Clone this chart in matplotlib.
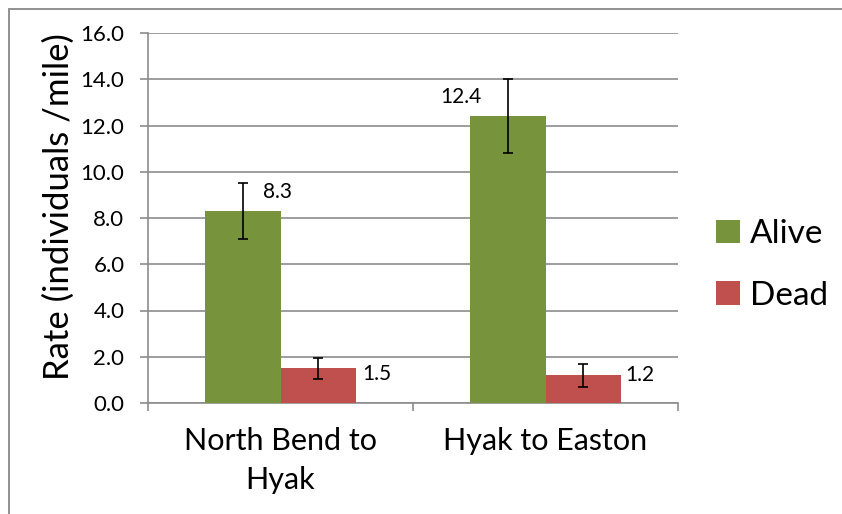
import matplotlib
matplotlib.use("Agg")
import matplotlib.pyplot as plt
import matplotlib.patches as mpatches
import numpy as np

categories = ["North Bend to\nHyak", "Hyak to Easton"]
series_names = ["Alive", "Dead"]
alive = [8.3, 12.4]
dead = [1.5, 1.2]
alive_err = [1.2, 1.6]
dead_err = [0.45, 0.5]
yticks = [0, 2, 4, 6, 8, 10, 12, 14, 16]

colors = ["#77933C", "#C0504D"]
plt.rcParams['font.family'] = ['Lato', 'DejaVu Sans']

fig = plt.figure(figsize=(8.42, 5.14), dpi=100)
ax = fig.add_axes([148/842, 1-403/514, 530/842, 370/514])

x = np.arange(len(categories))
w = 0.285
ekw = dict(ecolor='black', elinewidth=1.2, capsize=3.6, capthick=1.2, zorder=4)
b1 = ax.bar(x - w/2, alive, w, color=colors[0], zorder=3, label=series_names[0],
            yerr=alive_err, error_kw=ekw)
b2 = ax.bar(x + w/2, dead, w, color=colors[1], zorder=3, label=series_names[1],
            yerr=dead_err, error_kw=ekw)

# data labels
offsets_alive = [(25, 14), (-34, 14)]
offsets_dead = [(42, -4), (41, 0)]
for i in range(len(categories)):
    ax.annotate(f"{alive[i]:.1f}", (x[i] - w/2, alive[i]), xytext=offsets_alive[i],
                textcoords='offset points', ha='center', va='center', fontsize=15, color='black')
    ax.annotate(f"{dead[i]:.1f}", (x[i] + w/2, dead[i]), xytext=offsets_dead[i],
                textcoords='offset points', ha='center', va='center', fontsize=15, color='black')

ax.set_xlim(-0.5, len(categories) - 0.5)
ax.set_ylim(0, 16)
ax.set_yticks(yticks)
ax.set_yticklabels([f"{v:.1f}" for v in yticks], fontsize=16)
ax.yaxis.grid(True, color='#8c8c8c', linewidth=1.2, zorder=0)
ax.set_axisbelow(True)

ax.set_xticks(np.arange(len(categories) + 1) - 0.5)
ax.set_xticklabels([])
ax.set_xticks(x, minor=True)
ax.set_xticklabels(categories, minor=True, fontsize=22, linespacing=1.5)
ax.tick_params(axis='x', which='minor', length=0, pad=17)
ax.tick_params(axis='x', which='major', length=6, color='#8c8c8c', width=1.2)
ax.tick_params(axis='y', length=6, color='#8c8c8c', width=1.2, pad=11)

for s in ['top', 'right']:
    ax.spines[s].set_visible(False)
for s in ['left', 'bottom']:
    ax.spines[s].set_color('#8c8c8c')
    ax.spines[s].set_linewidth(1.2)

ax.set_ylabel("Rate (individuals /mile)", fontsize=25)
ax.yaxis.set_label_coords(-0.138, 0.53)

fig.legend(handles=[b1, b2], labels=series_names, loc='center left',
           bbox_to_anchor=(716/842, 1-265/514), frameon=False, fontsize=24,
           handlelength=0.72, handleheight=0.72, handletextpad=0.3,
           labelspacing=0.95, borderpad=0, borderaxespad=0)

border = mpatches.Rectangle((8.5/842, -0.05), 1.0, (1 - 8.5/514) + 0.05,
                            transform=fig.transFigure, fill=False,
                            edgecolor='#888888', linewidth=1.3)
fig.add_artist(border)

fig.savefig("out.png", dpi=100)
